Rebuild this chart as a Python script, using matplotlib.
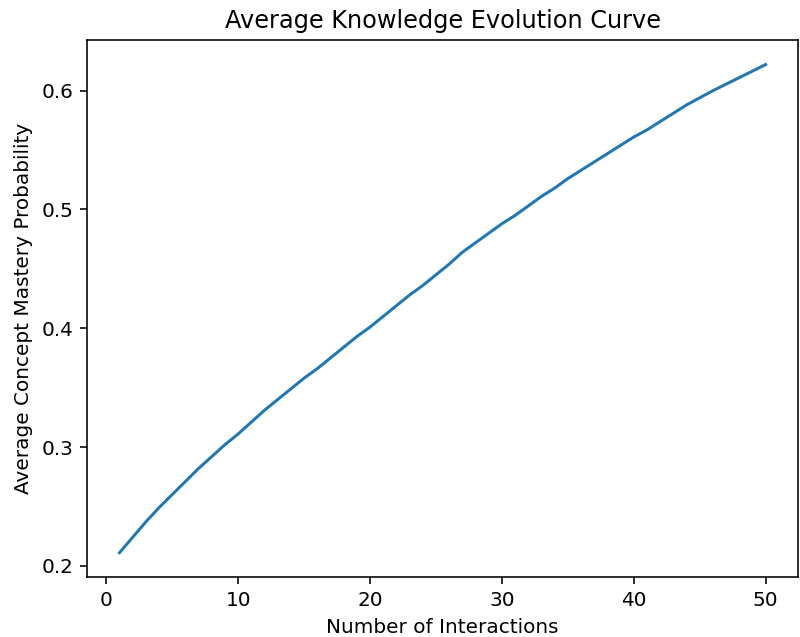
import numpy as np
import matplotlib
matplotlib.use("Agg")
import matplotlib.pyplot as plt

# Interactions and mean mastery probability
interactions = list(range(1, 51))
mastery = [0.211, 0.224, 0.237, 0.249, 0.260, 0.271, 0.282, 0.292, 0.302, 0.311,
           0.321, 0.331, 0.340, 0.349, 0.358, 0.366, 0.375, 0.384, 0.393, 0.401,
           0.410, 0.419, 0.428, 0.436, 0.445, 0.454, 0.464, 0.472, 0.480, 0.488,
           0.495, 0.503, 0.511, 0.518, 0.526, 0.533, 0.540, 0.547, 0.554, 0.561,
           0.567, 0.574, 0.581, 0.588, 0.594, 0.600, 0.6055, 0.611, 0.6165, 0.622]

fig = plt.figure(figsize=(800 / 144, 637 / 144), dpi=144)
ax = fig.add_axes([0.109, 0.094, 0.8885, 0.843])

ax.plot(interactions, mastery, color='#1f77b4', linewidth=1.5)

ax.set_title('Average Knowledge Evolution Curve')
ax.set_xlabel('Number of Interactions')
ax.set_ylabel('Average Concept Mastery Probability')

fig.savefig('out.png', dpi=144)
